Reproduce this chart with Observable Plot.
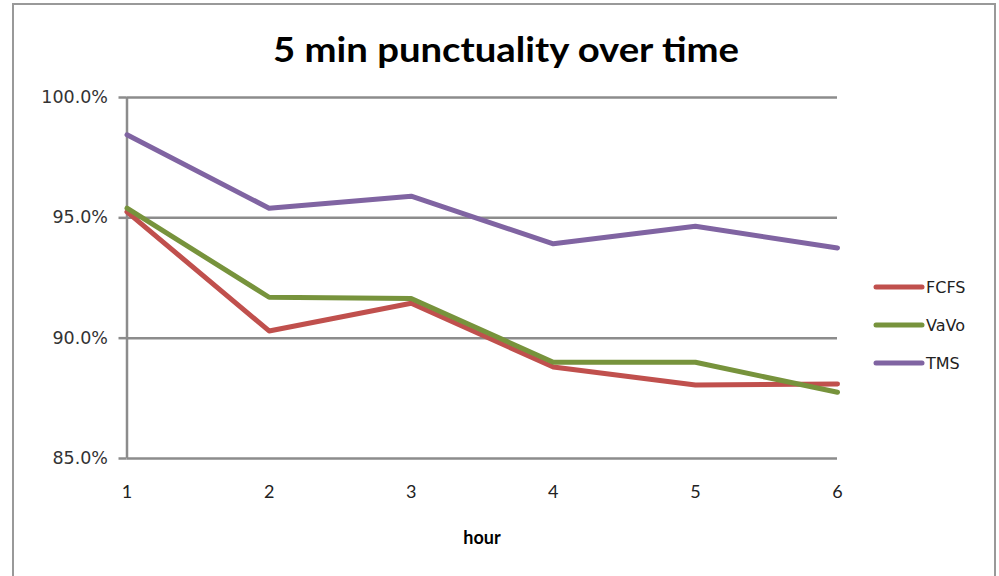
<!DOCTYPE html>
<html>
<head>
<meta charset="utf-8">
<script src="https://cdn.jsdelivr.net/npm/d3@7"></script>
<script src="https://cdn.jsdelivr.net/npm/@observablehq/plot@0.6"></script>
<style>
  html, body { margin: 0; padding: 0; background: #fff; }
  #chart { width: 999px; height: 576px; overflow: hidden; }
</style>
</head>
<body>
<div id="chart"></div>
<script>
// Punctuality (share of flights within 5 minutes) per hour, three sequencing strategies
const hours = [1, 2, 3, 4, 5, 6];
const fcfs = [95.25, 90.3, 91.45, 88.8, 88.05, 88.1];
const vavo = [95.4, 91.7, 91.65, 89.0, 89.0, 87.75];
const tms  = [98.45, 95.4, 95.9, 93.92, 94.65, 93.75];
const seriesNames = ["FCFS", "VaVo", "TMS"];
const seriesColors = ["#C0504D", "#77933C", "#8064A2"];
const yTicks = [85, 90, 95, 100];

const seriesValues = [fcfs, vavo, tms];
const rows = seriesNames.flatMap((name, i) =>
  hours.map((h, j) => ({series: name, hour: h, value: seriesValues[i][j]}))
);

const W = 999, H = 576;
const gridColor = "#8c8c8c";

const plot = Plot.plot({
  width: W,
  height: H,
  marginLeft: 126.5,
  marginRight: 162,
  marginTop: 97,
  marginBottom: 118,
  style: {background: "#fff", overflow: "visible"},
  x: {domain: [1, 6]},
  y: {domain: [85, 100]},
  color: {domain: seriesNames, range: seriesColors},
  marks: [
    Plot.ruleY(yTicks, {stroke: gridColor, strokeWidth: 2.5}),
    Plot.ruleX([1], {stroke: gridColor, strokeWidth: 2.5}),
    Plot.axisY({
      ticks: yTicks,
      tickFormat: d => d.toFixed(1) + "%",
      tickSize: 8,
      tickPadding: 11,
      stroke: gridColor,
      strokeWidth: 2.5,
      fill: "#333",
      fontSize: 17.5,
      fontFamily: "DejaVu Sans",
      label: null
    }),
    Plot.axisX({
      ticks: hours,
      tickFormat: d => String(d),
      tickSize: 0,
      tickPadding: 27,
      fill: "#222",
      fontSize: 18,
      fontFamily: "Lato",
      label: null
    }),
    Plot.line(rows, {
      x: "hour",
      y: "value",
      z: "series",
      stroke: "series",
      strokeWidth: 5,
      strokeLinejoin: "round",
      strokeLinecap: "round"
    })
  ]
});

document.getElementById("chart").appendChild(plot);

const svg = d3.select(plot);

// outer chart frame
svg.insert("rect", ":first-child")
  .attr("x", 13).attr("y", 4)
  .attr("width", 982).attr("height", 640)
  .attr("fill", "none")
  .attr("stroke", "#999")
  .attr("stroke-width", 2);

// title
svg.append("text")
  .attr("x", 506).attr("y", 62)
  .attr("text-anchor", "middle")
  .attr("font-family", "Lato")
  .attr("font-weight", "bold")
  .attr("font-size", 35)
  .attr("textLength", 466)
  .attr("lengthAdjust", "spacingAndGlyphs")
  .attr("fill", "#000")
  .text("5 min punctuality over time");

// x axis title
svg.append("text")
  .attr("x", 482).attr("y", 544)
  .attr("text-anchor", "middle")
  .attr("font-family", "Lato")
  .attr("font-weight", "bold")
  .attr("font-size", 18)
  .attr("fill", "#000")
  .text("hour");

// legend
const legendY = [287, 325, 363];
const legend = svg.append("g").attr("text-anchor", "start");
seriesNames.forEach((name, i) => {
  legend.append("line")
    .attr("x1", 876).attr("x2", 922)
    .attr("y1", legendY[i]).attr("y2", legendY[i])
    .attr("stroke", seriesColors[i])
    .attr("stroke-width", 5)
    .attr("stroke-linecap", "round");
  legend.append("text")
    .attr("x", 926).attr("y", legendY[i])
    .attr("dy", "0.36em")
    .attr("text-anchor", "start")
    .attr("font-family", "DejaVu Sans")
    .attr("font-size", 16)
    .attr("fill", "#222")
    .text(name);
});
</script>
</body>
</html>
